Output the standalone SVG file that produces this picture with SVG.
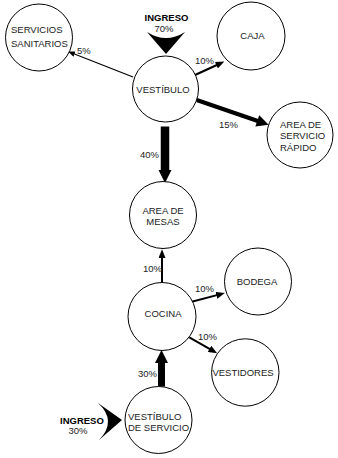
<svg xmlns="http://www.w3.org/2000/svg" width="338" height="458" viewBox="0 0 338 458">
<style>
.n{fill:#fff;stroke:#000;stroke-width:1}
text{font-family:"Liberation Sans",Arial,sans-serif;font-size:9.5px;fill:#222}
.m{text-anchor:middle}
.b{font-weight:bold;fill:#000}
.c{stroke:#000;fill:none}
</style>
<defs>
<marker id="ahs" viewBox="0 0 10 8" refX="4" refY="4" markerUnits="userSpaceOnUse" markerWidth="7" markerHeight="6" orient="auto"><path d="M0,0 L10,4 L0,8 z" fill="#000"/></marker>
<marker id="ah" viewBox="0 0 10 8" refX="4" refY="4" markerUnits="userSpaceOnUse" markerWidth="9" markerHeight="7" orient="auto"><path d="M0,0 L10,4 L0,8 z" fill="#000"/></marker>
<marker id="ahm" viewBox="0 0 10 10" refX="3" refY="5" markerUnits="userSpaceOnUse" markerWidth="13" markerHeight="12" orient="auto"><path d="M0,0 L10,5 L0,10 z" fill="#000"/></marker>
<marker id="ahl" viewBox="0 0 10 10" refX="0" refY="5" markerUnits="userSpaceOnUse" markerWidth="13" markerHeight="26" orient="auto"><path d="M0,0 L10,5 L0,10 z" fill="#000"/></marker>
<marker id="ahx" viewBox="0 0 10 10" refX="0" refY="5" markerUnits="userSpaceOnUse" markerWidth="13" markerHeight="22" orient="auto"><path d="M0,0 L10,5 L0,10 z" fill="#000"/></marker>
</defs>
<g id="connectors">
<line class="c" x1="133" y1="77" x2="71.9" y2="53" stroke-width="1.2" marker-end="url(#ahs)"/>
<line class="c" x1="195" y1="75" x2="219.6" y2="63.75" stroke-width="2" marker-end="url(#ah)"/>
<line class="c" x1="196.7" y1="100" x2="260.7" y2="122" stroke-width="4" marker-end="url(#ahm)"/>
<line class="c" x1="165" y1="126.5" x2="165" y2="170" stroke-width="8.5" marker-end="url(#ahl)"/>
<line class="c" x1="162" y1="283" x2="162" y2="254.4" stroke-width="2" marker-end="url(#ah)"/>
<line class="c" x1="191.7" y1="301.7" x2="219.8" y2="294.4" stroke-width="2" marker-end="url(#ah)"/>
<line class="c" x1="189.3" y1="337.3" x2="212.6" y2="350.6" stroke-width="2" marker-end="url(#ah)"/>
<line class="c" x1="161.5" y1="386.5" x2="161.5" y2="363" stroke-width="7" marker-end="url(#ahx)"/>
<text x="77" y="53.5">5%</text>
<text x="195" y="63.5">10%</text>
<text x="219" y="127.5">15%</text>
<text x="140" y="157.5">40%</text>
<text x="143" y="272">10%</text>
<text x="195" y="291.5">10%</text>
<text x="198" y="340">10%</text>
<text x="138" y="376.5">30%</text>
</g>
<g id="ingreso70">
<path d="M147,32 Q166,44 185,32 L166,54 Z" fill="#000"/>
<text class="m b" x="166.5" y="21">INGRESO</text>
<text class="m" x="164" y="31.5">70%</text>
</g>
<g id="ingreso30">
<path d="M98,403 L122,420 L99,440 Q117.5,421 98,403 Z" fill="#000"/>
<text class="b" x="60" y="423.5">INGRESO</text>
<text class="m" x="78" y="434">30%</text>
</g>
<g id="servicios-sanitarios">
<circle class="n" cx="39" cy="37.5" r="33.5"/>
<text x="11" y="32.5">SERVICIOS</text>
<text x="11" y="46.5">SANITARIOS</text>
</g>
<g id="vestibulo">
<circle class="n" cx="165.5" cy="89" r="33"/>
<text class="m" x="163" y="92.7">VESTÍBULO</text>
</g>
<g id="caja">
<circle class="n" cx="251" cy="36" r="34"/>
<text class="m" x="252.5" y="39.4">CAJA</text>
</g>
<g id="area-servicio-rapido">
<circle class="n" cx="300" cy="135" r="33"/>
<text x="280" y="127.5">AREA DE</text>
<text x="280" y="139">SERVICIO</text>
<text x="280" y="151">RÁPIDO</text>
</g>
<g id="area-mesas">
<circle class="n" cx="163" cy="215" r="33.5"/>
<text class="m" x="163" y="214">AREA DE</text>
<text class="m" x="163" y="225">MESAS</text>
</g>
<g id="bodega">
<circle class="n" cx="258" cy="281.5" r="33.5"/>
<text class="m" x="257" y="285">BODEGA</text>
</g>
<g id="cocina">
<circle class="n" cx="162" cy="316.5" r="34"/>
<text class="m" x="163" y="316.7">COCINA</text>
</g>
<g id="vestidores">
<circle class="n" cx="245.3" cy="372.5" r="33.7"/>
<text class="m" x="243" y="376">VESTIDORES</text>
</g>
<g id="vestibulo-servicio">
<circle class="n" cx="158.5" cy="420" r="33.5"/>
<text x="128" y="420">VESTÍBULO</text>
<text x="128" y="430.5">DE SERVICIO</text>
</g>
</svg>
